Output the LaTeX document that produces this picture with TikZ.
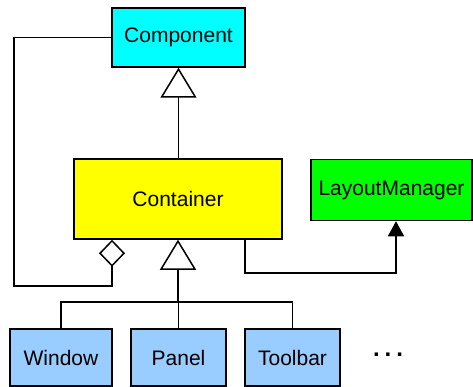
\documentclass[tikz,border=0pt]{standalone}
\usepackage{fontspec}
\setmainfont{Liberation Sans}
\usetikzlibrary{arrows.meta}
\definecolor{cyanbox}{RGB}{0,255,255}
\definecolor{yellowbox}{RGB}{255,255,0}
\definecolor{greenbox}{RGB}{0,255,0}
\definecolor{bluebox}{RGB}{153,204,255}
\begin{document}
\begin{tikzpicture}[x=1pt,y=-1pt,
  every node/.style={font=\fontsize{21}{25}\selectfont},
  cls/.style={draw=black,line width=1.5pt,inner sep=0pt,minimum height=57pt},
  conn/.style={draw=black,line width=1.5pt},
  inherit/.style={-{Triangle[open,length=30pt,width=36pt,line width=1.5pt]}},
  aggreg/.style={{Diamond[open,length=27pt,width=26pt,line width=1.5pt]}-},
  depend/.style={-{Triangle[length=15pt,width=16pt]}}]
\useasboundingbox (0,0) rectangle (473,387);
\node[cls,fill=cyanbox,minimum width=133pt,minimum height=59pt] (comp) at (178.5,37.5) {Component};
\node[cls,fill=yellowbox,minimum width=208pt,minimum height=80pt] (cont) at (178,199) {Container};
\node[cls,fill=greenbox,minimum width=161pt,minimum height=61pt] (lm) at (391.5,190) {LayoutManager};
\node[cls,fill=bluebox,minimum width=102pt] (win) at (61,357.5) {Window};
\node[cls,fill=bluebox,minimum width=95pt] (pan) at (178.5,357.5) {Panel};
\node[cls,fill=bluebox,minimum width=95pt] (tool) at (292.5,357.5) {Toolbar};
\node[font=\fontsize{24}{28}\selectfont\bfseries] (dots) at (388,355) {.\hspace{5pt}.\hspace{5pt}.};
\coordinate (bus) at (178,302);
\coordinate (aggcorner) at (14,286);
\coordinate (depcorner) at (396,273);
% inheritance Container -> Component
\draw[conn,inherit] (cont.north -| comp) -- (comp.south);
% aggregation loop
\draw[conn,aggreg] ([xshift=-66pt]cont.south) |- (aggcorner) |- (comp.west);
% dependency Container -> LayoutManager
\draw[conn,depend] ([xshift=67pt]cont.south) |- (depcorner) -- (depcorner |- lm.south);
% inheritance tree
\draw[conn,inherit] (bus) -- (cont.south -| bus);
\draw[conn] (win.north) |- (bus) -| (tool.north);
\draw[conn] (pan.north) -- (pan.north |- bus);
\end{tikzpicture}
\end{document}
